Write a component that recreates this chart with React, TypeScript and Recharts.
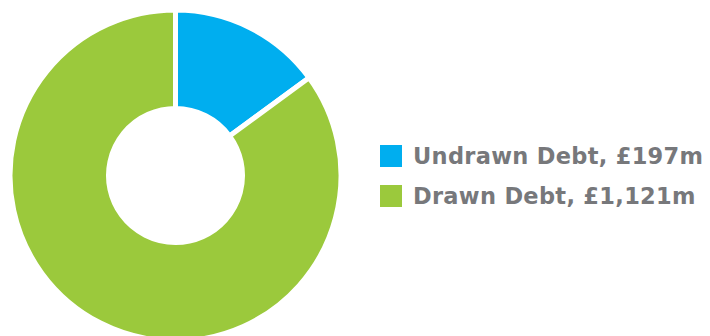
import { PieChart, Pie, Cell, Legend } from 'recharts';

const debtLabels = ['Undrawn Debt, £197m', 'Drawn Debt, £1,121m'];
const debtValues = [197, 1121];
const debtColors = ['#00AEEF', '#9BC93C'];

const data = debtLabels.map((name, i) => ({ name, value: debtValues[i] }));

const TEXT_GREY = '#77787B';

function DebtLegend() {
  return (
    <div style={{ fontFamily: '"DejaVu Sans", sans-serif' }}>
      {data.map((d, i) => (
        <div
          key={d.name}
          style={{ display: 'flex', alignItems: 'center', height: 40 }}
        >
          <span
            style={{
              width: 22,
              height: 22,
              background: debtColors[i],
              marginRight: 11,
              display: 'inline-block',
            }}
          />
          <span
            style={{
              color: TEXT_GREY,
              fontWeight: 700,
              fontSize: 22.5,
              letterSpacing: 0.3,
              whiteSpace: 'nowrap',
            }}
          >
            {d.name}
          </span>
        </div>
      ))}
    </div>
  );
}

export default function App() {
  return (
    <div style={{ position: 'absolute', left: 0, top: 0, background: '#fff' }}>
      <PieChart width={710} height={336} margin={{ top: 0, right: 0, bottom: 0, left: 0 }}>
        <Pie
          data={data}
          dataKey="value"
          nameKey="name"
          cx={175.5}
          cy={175.5}
          innerRadius={67}
          outerRadius={165.5}
          startAngle={90}
          endAngle={-270}
          stroke="#FFFFFF"
          strokeWidth={5}
          isAnimationActive={false}
        >
          {data.map((d, i) => (
            <Cell key={d.name} fill={debtColors[i]} />
          ))}
        </Pie>
        <Legend
          content={<DebtLegend />}
          wrapperStyle={{ left: 380, top: 136, width: 330 }}
        />
      </PieChart>
    </div>
  );
}
